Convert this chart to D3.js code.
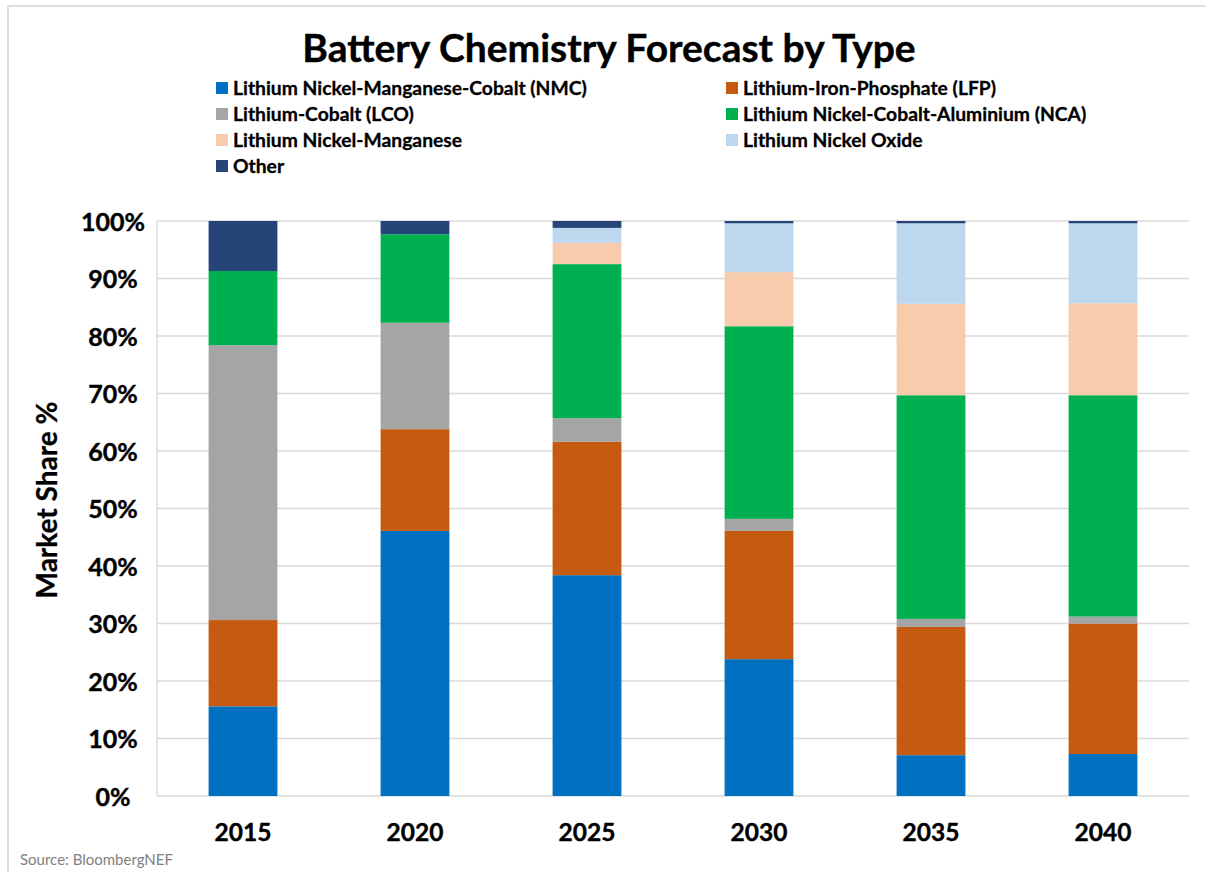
<!DOCTYPE html>
<html><head><meta charset="utf-8">
<script src="https://cdn.jsdelivr.net/npm/d3@7"></script>
<style>
html,body{margin:0;padding:0;background:#fff;}
svg{display:block;font-family:Lato,"Open Sans",sans-serif;}
</style></head>
<body><svg id="c" width="1206" height="872"></svg>
<script>
const years = ["2015","2020","2025","2030","2035","2040"];
const seriesNames = ["Lithium Nickel-Manganese-Cobalt (NMC)","Lithium-Iron-Phosphate (LFP)","Lithium-Cobalt (LCO)","Lithium Nickel-Cobalt-Aluminium (NCA)","Lithium Nickel-Manganese","Lithium Nickel Oxide","Other"];
const colors = ["#0070c0","#c55a11","#a5a5a5","#00b050","#f8cbad","#bdd7ee","#264478"];
const nmc = [15.6,46.1,38.4,23.8,7.1,7.3];
const lfp = [15.0,17.7,23.2,22.3,22.3,22.7];
const lco = [47.8,18.5,4.1,2.1,1.4,1.2];
const nca = [12.9,15.4,26.8,33.5,38.9,38.5];
const lnm = [0,0,3.7,9.4,15.9,16.0];
const lno = [0,0,2.6,8.5,14.0,13.9];
const other = [8.7,2.3,1.2,0.4,0.4,0.4];
const yTicks = [0,10,20,30,40,50,60,70,80,90,100];

const seriesVals = [nmc,lfp,lco,nca,lnm,lno,other];
const keys = seriesNames.map((_,i)=>"s"+i);
const rows = years.map((y,j)=>{const r={year:y}; keys.forEach((k,i)=>r[k]=seriesVals[i][j]); return r;});
const stack = d3.stack().keys(keys)(rows);

const svg = d3.select("#c");
// frame
svg.append("path").attr("d","M8,1000 V6 H1300").attr("fill","none").attr("stroke","#dedede").attr("stroke-width",2);

const L=157,R=1189,T=221,B=796;
const x = d3.scaleBand().domain(years).range([L,R]).paddingInner(0.6).paddingOuter(0.3);
const y = d3.scaleLinear().domain([0,100]).range([B,T]);

// gridlines
svg.append("g").selectAll("line").data(yTicks).join("line")
  .attr("x1",L).attr("x2",R).attr("y1",d=>y(d)).attr("y2",d=>y(d))
  .attr("stroke","#d9d9d9").attr("stroke-width",1.3);
svg.append("line").attr("x1",L).attr("x2",L).attr("y1",T).attr("y2",B).attr("stroke","#d9d9d9").attr("stroke-width",1.3);

// bars
svg.append("g").selectAll("g").data(stack).join("g")
  .attr("fill",(d,i)=>colors[i])
  .selectAll("rect").data(d=>d).join("rect")
  .attr("x",d=>x(d.data.year)).attr("width",x.bandwidth())
  .attr("y",d=>y(d[1])).attr("height",d=>Math.max(0,y(d[0])-y(d[1])));

// y axis labels (centered as in reference)
const yAxis = d3.axisLeft(y).tickValues(yTicks).tickFormat(d=>d+"%").tickSize(0).tickPadding(0);
const ya = svg.append("g").attr("transform",`translate(113,0)`).call(yAxis);
ya.select(".domain").remove();
ya.selectAll("text").attr("text-anchor","middle").attr("font-size",25).attr("font-weight","bold").attr("fill","#000")
  .attr("font-family","Lato,sans-serif").attr("dy","0.36em").attr("stroke","#000").attr("stroke-width",0.4);

// x axis labels
const xAxis = d3.axisBottom(x).tickSize(0).tickPadding(0);
const xa = svg.append("g").attr("transform",`translate(0,${B+28})`).call(xAxis);
xa.select(".domain").remove();
xa.selectAll("text").attr("font-size",24.5).attr("font-weight","bold").attr("fill","#000")
  .attr("font-family","Lato,sans-serif").attr("stroke","#000").attr("stroke-width",0.4);

// y title
svg.append("text").attr("transform",`translate(57,500) rotate(-90)`).attr("text-anchor","middle")
  .attr("font-size",28).attr("font-weight","bold").attr("stroke","#000").attr("stroke-width",0.3).text("Market Share %");

// title
svg.append("text").attr("x",609).attr("y",62).attr("text-anchor","middle").attr("font-size",39).attr("font-weight","bold")
  .attr("stroke","#000").attr("stroke-width",0.4).text("Battery Chemistry Forecast by Type");

// legend
const lg = svg.append("g");
seriesNames.forEach((n,i)=>{
  const col=i%2,row=Math.floor(i/2);
  const gx = col===0?216:726, gy=88+row*26;
  lg.append("rect").attr("x",gx).attr("y",gy-6).attr("width",12).attr("height",12).attr("fill",colors[i]);
  lg.append("text").attr("x",gx+17).attr("y",gy).attr("dy","0.36em").attr("font-size",19.3).attr("font-weight","bold")
    .attr("stroke","#000").attr("stroke-width",0.3).text(n);
});

// source
svg.append("text").attr("x",20).attr("y",865).attr("font-size",15).attr("fill","#7f7f7f").text("Source: BloombergNEF");
</script></body></html>
